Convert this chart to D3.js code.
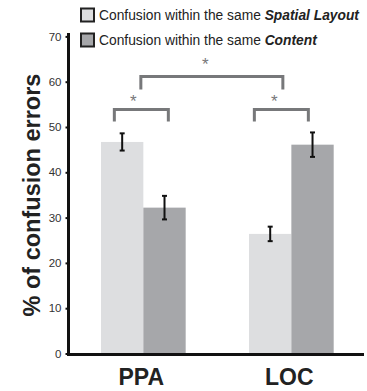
<!DOCTYPE html>
<html>
<head>
<meta charset="utf-8">
<script src="https://cdn.jsdelivr.net/npm/d3@7/dist/d3.min.js"></script>
<style>
  html, body { margin: 0; padding: 0; background: #fff; }
  svg { display: block; font-family: "Liberation Sans", Arial, Helvetica, sans-serif; }
</style>
</head>
<body>
<svg id="chart" width="367" height="391"></svg>
<script>
// Regions of interest and the two confusion types
const regions = ["PPA", "LOC"];
const seriesNames = ["Spatial Layout", "Content"];
// Mean % of confusion errors per region, one array per confusion type
const spatialValues = [46.7, 26.4];
const contentValues = [32.2, 46.1];
// Standard errors
const spatialErrors = [1.9, 1.6];
const contentErrors = [2.6, 2.7];
const yTicks = [0, 10, 20, 30, 40, 50, 60, 70];

const colors = { "Spatial Layout": "#dddee0", "Content": "#a6a7aa" };

const svg = d3.select("#chart");

const y = d3.scaleLinear().domain([0, 70]).range([353.5, 36.4]);
const x = d3.scaleBand().domain(regions).range([68, 366.7]).paddingInner(0.428).paddingOuter(0.223);
const xs = d3.scaleBand().domain(seriesNames).range([0, x.bandwidth()]);

const rows = [];
regions.forEach((r, i) => {
  rows.push({ region: r, series: "Spatial Layout", value: spatialValues[i], err: spatialErrors[i] });
  rows.push({ region: r, series: "Content", value: contentValues[i], err: contentErrors[i] });
});

// Bars
svg.append("g").selectAll("rect").data(rows).join("rect")
  .attr("x", d => x(d.region) + xs(d.series))
  .attr("y", d => y(d.value))
  .attr("width", xs.bandwidth())
  .attr("height", d => y(0) - y(d.value))
  .attr("fill", d => colors[d.series]);

// Error bars
const eb = svg.append("g").attr("stroke", "#111").attr("stroke-width", 2);
rows.forEach(d => {
  const cx = x(d.region) + xs(d.series) + xs.bandwidth() / 2;
  eb.append("line").attr("x1", cx).attr("x2", cx).attr("y1", y(d.value + d.err)).attr("y2", y(d.value - d.err));
  eb.append("line").attr("x1", cx - 2.5).attr("x2", cx + 2.5).attr("y1", y(d.value + d.err)).attr("y2", y(d.value + d.err));
  eb.append("line").attr("x1", cx - 2.5).attr("x2", cx + 2.5).attr("y1", y(d.value - d.err)).attr("y2", y(d.value - d.err));
});

// Y axis
const yAxis = svg.append("g").attr("transform", "translate(68.5,0)")
  .call(d3.axisLeft(y).tickValues(yTicks).tickSize(3).tickPadding(4).tickSizeOuter(0));
yAxis.select(".domain").remove();
yAxis.selectAll(".tick line").attr("stroke", "#111").attr("stroke-width", 2);
yAxis.selectAll(".tick text").attr("fill", "#333").style("font-size", "11.5px")
  .style("font-family", "'Liberation Sans', Arial, sans-serif");
svg.append("line").attr("x1", 68.5).attr("x2", 68.5).attr("y1", 33).attr("y2", 355.5)
  .attr("stroke", "#111").attr("stroke-width", 3);

// X axis
svg.append("line").attr("x1", 67).attr("x2", 364).attr("y1", 354.5).attr("y2", 354.5)
  .attr("stroke", "#111").attr("stroke-width", 3);
svg.append("g").selectAll("text").data(regions).join("text")
  .attr("x", d => x(d) + x.bandwidth() / 2 - 2)
  .attr("y", 385)
  .attr("text-anchor", "middle")
  .attr("fill", "#222")
  .style("font-size", "23px").style("font-weight", "bold")
  .text(d => d);

// Y title
svg.append("text")
  .attr("transform", "translate(40,195) rotate(-90)")
  .attr("text-anchor", "middle")
  .attr("fill", "#222")
  .style("font-size", "23.5px").style("font-weight", "bold")
  .text("% of confusion errors");

// Significance brackets
const bracketColor = "#77787a";
function bracket(x1, x2, yTop, drop, starX, starY) {
  svg.append("path")
    .attr("d", `M${x1},${yTop + drop}V${yTop}H${x2}V${yTop + drop}`)
    .attr("fill", "none").attr("stroke", bracketColor).attr("stroke-width", 3);
  svg.append("text").attr("x", starX).attr("y", starY).attr("text-anchor", "middle")
    .attr("fill", bracketColor).style("font-size", "17px").text("*");
}
const cPPA = x("PPA") + x.bandwidth() / 2;
const cLOC = x("LOC") + x.bandwidth() / 2;
bracket(cPPA - 29, cPPA + 25, 109.5, 12, cPPA - 10, 107);
bracket(cLOC - 37, cLOC + 17, 109.5, 12, cLOC - 17, 107);
bracket(cPPA - 2.5, cLOC - 8.5, 76.5, 13, (cPPA + cLOC) / 2 - 12, 70);

// Legend
const legend = svg.append("g").attr("transform", "translate(80,8)");
seriesNames.forEach((s, i) => {
  const g = legend.append("g").attr("transform", `translate(0,${i * 25})`);
  g.append("rect").attr("x", 1).attr("y", 0.5).attr("width", 13).attr("height", 13)
    .attr("fill", colors[s]).attr("stroke", "#222").attr("stroke-width", 2);
  const t = g.append("text").attr("x", 19).attr("y", 12).attr("fill", "#222").style("font-size", "13.8px");
  t.append("tspan").text("Confusion within the same ");
  t.append("tspan").style("font-weight", "bold").style("font-style", "italic").text(s);
});
</script>
</body>
</html>
